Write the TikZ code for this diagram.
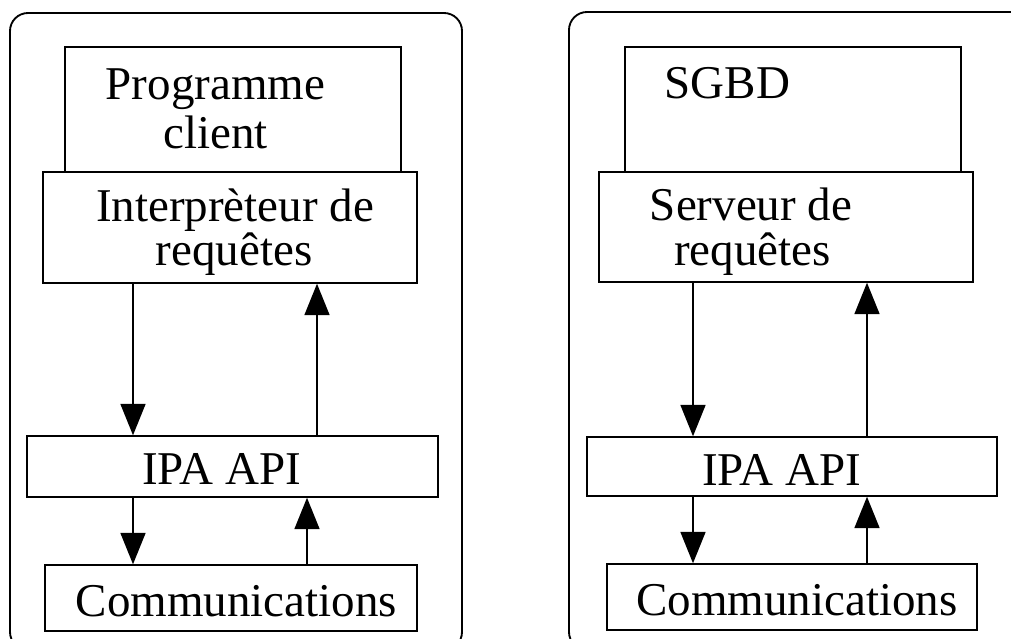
\documentclass[tikz,border=0pt]{standalone}
\usepackage{fontspec}
\setmainfont{Liberation Serif}
\usetikzlibrary{arrows.meta,fit}
\tikzset{
  panel/.style={draw, line width=1.4pt, rounded corners=13.5pt},
  layer/.style={draw, line width=1.1pt, inner sep=0pt, fill=white},
  lbl/.style={inner sep=0pt, anchor=base, font=\fontsize{35.25}{42}\selectfont},
  flow/.style={line width=1.1pt, -{Triangle[width=18.75pt,length=23.5pt]}},
}
\begin{document}
\begin{tikzpicture}[x=0.75pt, y=-0.75pt]
\useasboundingbox (0,0) rectangle (1011,639);
\clip (0,0) rectangle (1011,639);

% outer frames of the client and server sides
\draw[panel] (10,13) rectangle (462,650);
\draw[panel] (569,12) rectangle (1030,650);

% client side layers
\node[layer, fit={(65,47) (401,172)}] (prog) {};
\node[layer, fit={(43,172) (417,283)}] (interp) {};
\node[layer, fit={(27,436) (438,497)}] (apiL) {};
\node[layer, fit={(45,565) (417,631)}] (comL) {};

\node[lbl] (tProg) at (215.5,99) {Programme};
\node[lbl] (tClient) at (215.5,148) {client};
\node[lbl] (tInterp) at (235,221) {Interprèteur de};
\node[lbl] (tReqL) at (234,265) {requêtes};
\node[lbl] (tApiL) at (221.5,484) {IPA API};
\node[lbl] (tComL) at (236.5,616) {Communications};

% server side layers
\node[layer, fit={(625,47) (961,172)}] (sgbd) {};
\node[layer, fit={(599,172) (973,282)}] (serv) {};
\node[layer, fit={(587,437) (997,496)}] (apiR) {};
\node[layer, fit={(607,564) (977,630)}] (comR) {};

\node[lbl] (tSgbd) at (727.5,98) {SGBD};
\node[lbl] (tServ) at (751,220) {Serveur de};
\node[lbl] (tReqR) at (752.5,265) {requêtes};
\node[lbl] (tApiR) at (781.5,485) {IPA API};
\node[lbl] (tComR) at (797,615) {Communications};

% columns of the request / reply arrows
\coordinate (xLd) at (133,0);
\coordinate (xLu) at (317,0);
\coordinate (xLu2) at (307,0);
\coordinate (xRd) at (693,0);
\coordinate (xRu) at (867,0);

% client side flows
\draw[flow] (interp.south -| xLd) -- (apiL.north -| xLd);
\draw[flow] (apiL.north -| xLu) -- (interp.south -| xLu);
\draw[flow] (apiL.south -| xLd) -- (comL.north -| xLd);
\draw[flow] (comL.north -| xLu2) -- (apiL.south -| xLu2);

% server side flows
\draw[flow] (serv.south -| xRd) -- (apiR.north -| xRd);
\draw[flow] (apiR.north -| xRu) -- (serv.south -| xRu);
\draw[flow] (apiR.south -| xRd) -- (comR.north -| xRd);
\draw[flow] (comR.north -| xRu) -- (apiR.south -| xRu);
\end{tikzpicture}
\end{document}
